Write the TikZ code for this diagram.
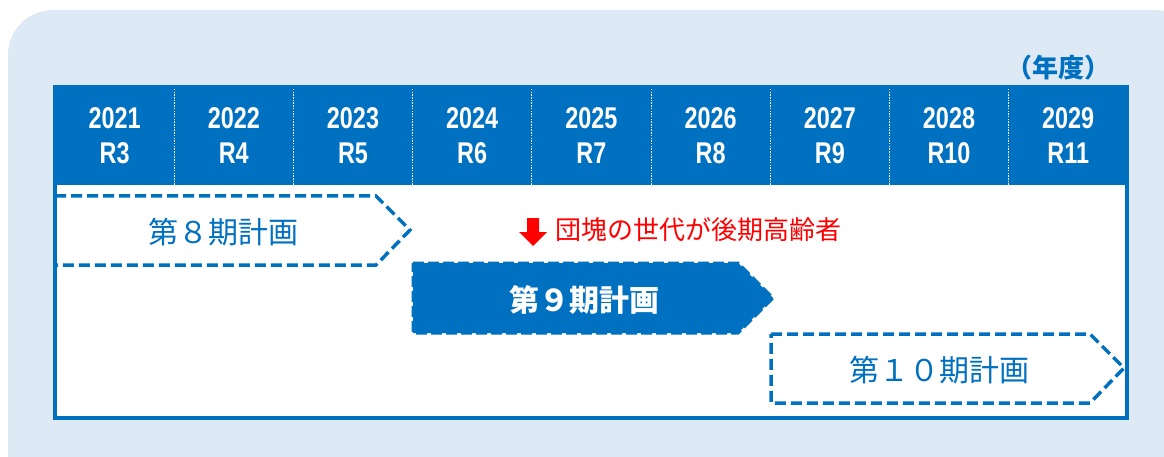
\documentclass[tikz,border=0pt]{standalone}
\usepackage{fontspec}
\newfontfamily\jp{Noto Sans CJK JP}
\newfontfamily\hdr[FakeStretch=0.78]{Liberation Sans}
\definecolor{mainblue}{RGB}{0,112,192}
\definecolor{bgblue}{RGB}{221,233,245}
\begin{document}
\begin{tikzpicture}[x=1pt,y=-1pt,
  yeartext/.style={text=white,font=\hdr\bfseries\fontsize{30}{30}\selectfont,inner sep=0pt,anchor=center},
  planbox/.style={draw=mainblue,line width=3.5pt,dash pattern=on 11pt off 5pt,line join=miter},
  plantext/.style={text=mainblue,font=\jp\fontsize{30}{30}\selectfont,inner sep=0pt},
  divider/.style={draw=white,line width=0.9pt,dash pattern=on 1.5pt off 1.2pt}]
\useasboundingbox (0,0) rectangle (1164,457);
% background
\fill[bgblue,rounded corners=45pt] (8,10) rectangle (1200,500);
% white table area
\fill[white] (55,87) rectangle (1127,418);
% header
\fill[mainblue] (55,87) rectangle (1127,185);
\foreach \i in {1,...,8}{
  \draw[divider] ({55+119.2*\i},89) -- ({55+119.2*\i},185);
}
\foreach \y/\r [count=\i from 0] in {2021/R3,2022/R4,2023/R5,2024/R6,2025/R7,2026/R8,2027/R9,2028/R10,2029/R11}{
  \node[yeartext] (yr\i) at ({55+119.2*(\i+0.5)},118) {\y};
  \node[yeartext] (rw\i) at ({55+119.2*(\i+0.5)},153) {\r};
}
% frame
\draw[mainblue,line width=4pt] (55,87) rectangle (1127,418);
% unit label
\node[text=mainblue,font=\jp\bfseries\fontsize{26}{26}\selectfont,inner sep=0pt] (unit) at (1058,68) {（年度）};
% plan 8
\draw[planbox] (55,196) -- (376,196) -- (410,230) -- (376,265) -- (55,265) -- cycle;
\node[plantext] (p8) at (223,232) {第８期計画};
% plan 9
\fill[mainblue] (413,263) -- (738,263) -- (773,298) -- (738,333) -- (413,333) -- cycle;
\draw[mainblue,line width=3pt,dash pattern=on 11pt off 4pt] (413,263) -- (738,263) -- (773,298) -- (738,333) -- (413,333) -- cycle;
\node[text=white,font=\jp\bfseries\fontsize{30}{30}\selectfont,inner sep=0pt] (p9) at (584,300) {第９期計画};
% plan 10
\draw[planbox] (771,334) -- (1090,334) -- (1124,368) -- (1090,403) -- (771,403) -- cycle;
\node[plantext] (p10) at (939,370) {第１０期計画};
% red note arrow (block arrow)
\fill[red] (527,218) -- (539,218) -- (539,232) -- (547,232) -- (533,246) -- (519,232) -- (527,232) -- cycle;
\node[text=red,font=\jp\fontsize{26}{26}\selectfont,inner sep=0pt,anchor=west] (note) at (555,230) {団塊の世代が後期高齢者};
\end{tikzpicture}
\end{document}
